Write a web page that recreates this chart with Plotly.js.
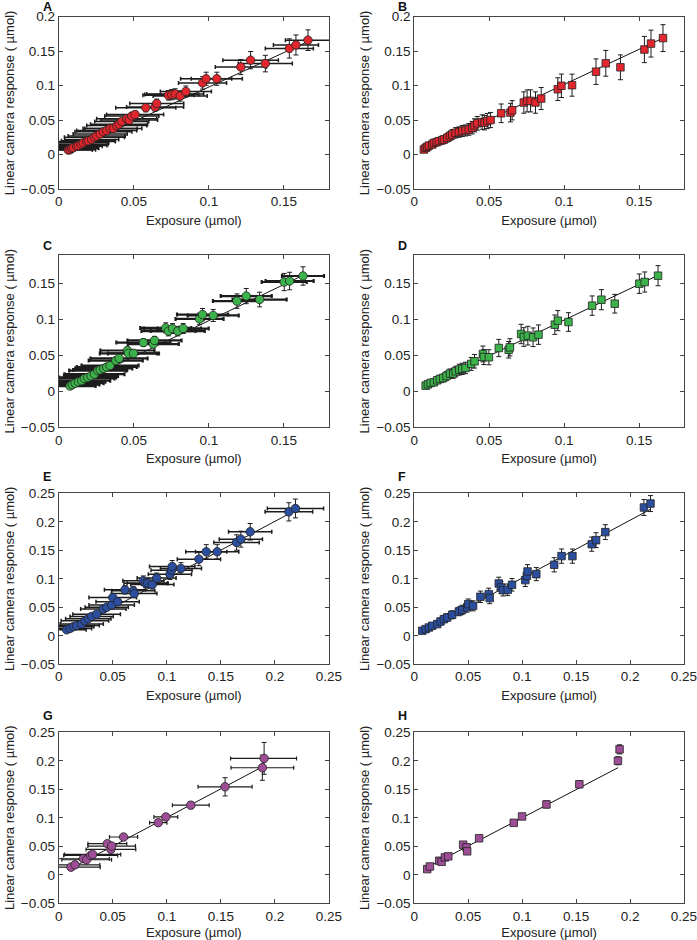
<!DOCTYPE html>
<html>
<head>
<meta charset="utf-8">
<script src="https://cdn.plot.ly/plotly-3.0.1.min.js"></script>
<style>
html,body{margin:0;padding:0;background:#fff;}
#chart{width:697px;height:940px;}
</style>
</head>
<body>
<div id="chart"></div>
<script>
// ---------- Data ----------
// Panels A/B : shared exposure values
var abX = [0.0064,0.0076,0.0087,0.0098,0.0120,0.0131,0.0149,0.0164,0.0187,0.0198,0.0220,0.0238,0.0253,0.0276,0.0298,0.0320,0.0342,0.0364,0.0387,0.0402,0.0420,0.0453,0.0469,0.0487,0.0509,0.0580,0.0642,0.0653,0.0731,0.0753,0.0776,0.0809,0.0847,0.0958,0.0982,0.1053,0.1213,0.1278,0.1376,0.1536,0.1580,0.1660];
var aY  = [0.0065,0.0070,0.0090,0.0100,0.0120,0.0130,0.0150,0.0170,0.0190,0.0200,0.0220,0.0250,0.0270,0.0300,0.0330,0.0350,0.0380,0.0380,0.0420,0.0440,0.0480,0.0520,0.0500,0.0560,0.0580,0.0680,0.0690,0.0740,0.0860,0.0870,0.0880,0.0850,0.0915,0.1040,0.1100,0.1100,0.1270,0.1370,0.1320,0.1540,0.1590,0.1660];
var aEx = [0.016,0.017,0.018,0.016,0.017,0.019,0.018,0.017,0.019,0.018,0.018,0.020,0.019,0.018,0.019,0.020,0.018,0.019,0.020,0.019,0.018,0.020,0.019,0.018,0.019,0.020,0.019,0.018,0.017,0.018,0.019,0.018,0.017,0.016,0.017,0.017,0.017,0.0185,0.018,0.016,0.015,0.015];
var aEy = [0.001,0.001,0.001,0.001,0.0015,0.0015,0.0015,0.002,0.002,0.002,0.002,0.0025,0.0025,0.003,0.003,0.003,0.0035,0.0035,0.004,0.004,0.0045,0.0045,0.0045,0.005,0.005,0.006,0.006,0.0065,0.007,0.0075,0.0075,0.0075,0.008,0.009,0.0095,0.0095,0.011,0.0125,0.012,0.014,0.0145,0.015];
var bY  = [0.0073,0.0097,0.0112,0.0131,0.0146,0.0170,0.0180,0.0195,0.0209,0.0219,0.0243,0.0268,0.0292,0.0316,0.0326,0.0341,0.0350,0.0365,0.0390,0.0424,0.0453,0.0472,0.0463,0.0487,0.0501,0.0599,0.0609,0.0643,0.0755,0.0779,0.0779,0.0755,0.0813,0.0949,0.0998,0.1007,0.1203,0.1324,0.1266,0.1524,0.1610,0.1690];
var bEy = [0.003,0.003,0.0035,0.004,0.004,0.0045,0.005,0.005,0.0055,0.0055,0.006,0.0065,0.007,0.0075,0.0075,0.008,0.008,0.0085,0.009,0.0095,0.010,0.0105,0.0105,0.011,0.011,0.0135,0.0135,0.014,0.0155,0.016,0.016,0.0155,0.016,0.0165,0.017,0.016,0.0185,0.0187,0.018,0.019,0.0195,0.0195];
var fitABx = [0.005,0.168];
var fitAy  = [0.003,0.166];
var fitBy  = [0.005,0.171];

// Panels C/D
var cdX = [0.0076,0.0091,0.0109,0.0131,0.0153,0.0171,0.0193,0.0215,0.0238,0.0260,0.0276,0.0300,0.0320,0.0342,0.0380,0.0402,0.0458,0.0464,0.0498,0.0564,0.0630,0.0638,0.0713,0.0731,0.0758,0.0793,0.0829,0.0938,0.0958,0.1029,0.1187,0.1249,0.1338,0.1502,0.1538,0.1627];
var cY  = [0.0075,0.0095,0.0115,0.0135,0.0150,0.0180,0.0195,0.0215,0.0240,0.0290,0.0300,0.0320,0.0340,0.0360,0.0430,0.0460,0.0570,0.0530,0.0530,0.0680,0.0660,0.0710,0.0885,0.0840,0.0875,0.0840,0.0876,0.1010,0.1070,0.1058,0.1258,0.1328,0.1280,0.1524,0.1538,0.1608];
var cEx = [0.017,0.018,0.019,0.018,0.019,0.020,0.019,0.018,0.020,0.019,0.018,0.019,0.020,0.019,0.018,0.019,0.018,0.019,0.017,0.018,0.017,0.018,0.017,0.018,0.019,0.018,0.017,0.016,0.017,0.017,0.016,0.017,0.018,0.015,0.016,0.014];
var cEy = [0.001,0.001,0.001,0.0012,0.0013,0.0015,0.0016,0.0018,0.002,0.0023,0.0024,0.0026,0.0028,0.003,0.0034,0.0036,0.0045,0.0042,0.0042,0.0054,0.0052,0.0056,0.007,0.0066,0.0069,0.0066,0.0069,0.008,0.0085,0.0084,0.010,0.0106,0.0102,0.012,0.0122,0.0128];
var dY  = [0.0080,0.0099,0.0118,0.0127,0.0155,0.0174,0.0187,0.0215,0.0248,0.0248,0.0280,0.0303,0.0315,0.0327,0.0383,0.0420,0.0522,0.0480,0.0476,0.0605,0.0580,0.0614,0.0800,0.0758,0.0777,0.0754,0.0791,0.0930,0.0986,0.0967,0.1195,0.1278,0.1222,0.1501,0.1524,0.1612];
var dEy = [0.003,0.0035,0.004,0.004,0.0045,0.005,0.0055,0.006,0.0065,0.0065,0.007,0.0075,0.0078,0.008,0.009,0.0095,0.011,0.0105,0.0105,0.012,0.0115,0.012,0.0135,0.013,0.013,0.013,0.0135,0.0135,0.014,0.013,0.0135,0.014,0.013,0.0135,0.014,0.014];
var fitCDx = [0.006,0.163];
var fitCy  = [0.004,0.162];
var fitDy  = [0.006,0.162];

// Panels E/F
var efX = [0.0074,0.0105,0.0136,0.0166,0.0213,0.0243,0.0274,0.0305,0.0351,0.0413,0.0444,0.0490,0.0500,0.0545,0.0613,0.0690,0.0699,0.0783,0.0804,0.0823,0.0866,0.0906,0.1029,0.1044,0.1050,0.1131,0.1297,0.1365,0.1466,0.1645,0.1685,0.1771,0.2129,0.2190];
var eY  = [0.0105,0.0130,0.0160,0.0180,0.0205,0.0263,0.0300,0.0340,0.0380,0.0468,0.0500,0.0540,0.0673,0.0596,0.0807,0.0790,0.0740,0.0965,0.0924,0.0924,0.0900,0.1012,0.1082,0.1150,0.1216,0.1181,0.1345,0.1474,0.1474,0.1637,0.1696,0.1825,0.2175,0.2234];
var eEx = [0.018,0.020,0.019,0.021,0.020,0.022,0.021,0.020,0.022,0.021,0.020,0.021,0.022,0.020,0.019,0.020,0.021,0.019,0.020,0.019,0.020,0.018,0.020,0.019,0.021,0.019,0.020,0.019,0.020,0.021,0.020,0.020,0.022,0.026];
var eEy = [0.001,0.0012,0.0015,0.0017,0.002,0.0025,0.0028,0.003,0.0035,0.004,0.0045,0.005,0.006,0.0055,0.0072,0.007,0.0066,0.0085,0.0082,0.0082,0.008,0.009,0.0095,0.010,0.0105,0.0102,0.0115,0.0125,0.0125,0.0135,0.014,0.0145,0.016,0.0165];
var fY  = [0.0088,0.0117,0.0146,0.0175,0.0205,0.0251,0.0292,0.0322,0.0368,0.0427,0.0456,0.0500,0.0556,0.0526,0.0684,0.0731,0.0661,0.0918,0.0848,0.0801,0.0807,0.0895,0.0977,0.1053,0.1129,0.1082,0.1246,0.1398,0.1398,0.1608,0.1678,0.1819,0.2251,0.2320];
var fEy = [0.003,0.0035,0.004,0.0045,0.005,0.0055,0.006,0.0065,0.007,0.0075,0.008,0.0085,0.009,0.0088,0.010,0.0105,0.0098,0.011,0.0105,0.0102,0.0102,0.011,0.0112,0.0115,0.012,0.0115,0.0125,0.0125,0.0125,0.0125,0.013,0.013,0.014,0.014];
var fitEFx = [0.007,0.219];
var fitEy  = [0.006,0.220];
var fitFy  = [0.007,0.222];

// Panels G/H
var gX  = [0.0114,0.0151,0.0228,0.0259,0.0296,0.0314,0.0450,0.0483,0.0490,0.0600,0.0921,0.0991,0.1222,0.1539,0.1884,0.1900];
var gY  = [0.0135,0.0176,0.0282,0.0264,0.0340,0.0358,0.0546,0.0446,0.0505,0.0663,0.0915,0.1015,0.1221,0.1543,0.1878,0.2042];
var gExPlus  = [0.027,0.023,0.024,0.023,0.025,0.026,0.018,0.023,0.022,0.013,0.008,0.011,0.017,0.025,0.029,0.030];
var gExMinus = [0.027,0.023,0.024,0.023,0.025,0.026,0.018,0.023,0.022,0.013,0.008,0.011,0.017,0.025,0.029,0.031];
var gEy = [0.003,0.003,0.004,0.004,0.004,0.004,0.005,0.005,0.005,0.006,0.005,0.006,0.006,0.016,0.022,0.028];
var hX  = [0.0120,0.0145,0.0231,0.0253,0.0284,0.0315,0.0453,0.0484,0.0490,0.0601,0.0922,0.0999,0.1225,0.1530,0.1888,0.1903];
var hY  = [0.0100,0.0147,0.0247,0.0229,0.0306,0.0324,0.0529,0.0482,0.0412,0.0641,0.0912,0.1024,0.1235,0.1588,0.2000,0.2200];
var hEy = [0.003,0.003,0.003,0.003,0.003,0.003,0.004,0.004,0.004,0.004,0.004,0.005,0.006,0.006,0.007,0.008];
var fitGHx = [0.011,0.189];
var fitGy  = [0.011,0.190];
var fitHy  = [0.012,0.188];

var panelLetters = ['A','B','C','D','E','F','G','H'];
var xTitle = 'Exposure (\u00b5mol)';
var yTitle = 'Linear camera response ( \u00b5mol)';

// ---------- Styling ----------
var RED='#e2262d', GREEN='#3bb24a', BLUE='#2c4e9e', PURPLE='#9d4e96';
var FONT='Liberation Sans, Arial, Helvetica, sans-serif';
var colL=[0.0842,0.4720], colR=[0.5944,0.9813];
var rows=[[0.7989,0.9822],[0.5454,0.7287],[0.2933,0.4752],[0.0390,0.2210]];
var letterGap=[2,1,8.5,8.5]; // px between panel top and letter box bottom, per row

var panels = [
  {x:abX,y:aY,ex:aEx,exm:aEx,ey:aEy,fx:fitABx,fy:fitAy,c:RED,sym:'circle',xr:[0,0.18],yr:[-0.05,0.2],th:1.5},
  {x:abX,y:bY,ex:null,ey:bEy,fx:fitABx,fy:fitBy,c:RED,sym:'square',xr:[0,0.18],yr:[-0.05,0.2]},
  {x:cdX,y:cY,ex:cEx,exm:cEx,ey:cEy,fx:fitCDx,fy:fitCy,c:GREEN,sym:'circle',xr:[0,0.18],yr:[-0.05,0.19],th:2.2},
  {x:cdX,y:dY,ex:null,ey:dEy,fx:fitCDx,fy:fitDy,c:GREEN,sym:'square',xr:[0,0.18],yr:[-0.05,0.19]},
  {x:efX,y:eY,ex:eEx,exm:eEx,ey:eEy,fx:fitEFx,fy:fitEy,c:BLUE,sym:'circle',xr:[0,0.25],yr:[-0.05,0.25],th:1.5},
  {x:efX,y:fY,ex:null,ey:fEy,fx:fitEFx,fy:fitFy,c:BLUE,sym:'square',xr:[0,0.25],yr:[-0.05,0.25]},
  {x:gX,y:gY,ex:gExPlus,exm:gExMinus,ey:gEy,fx:fitGHx,fy:fitGy,c:PURPLE,sym:'circle',xr:[0,0.25],yr:[-0.05,0.25],th:1.2},
  {x:hX,y:hY,ex:null,ey:hEy,fx:fitGHx,fy:fitHy,c:PURPLE,sym:'square',xr:[0,0.25],yr:[-0.05,0.25]}
];

var traces=[], layout={
  width:697,height:940,margin:{l:0,r:0,t:0,b:0},
  paper_bgcolor:'#fff',plot_bgcolor:'#fff',showlegend:false,
  font:{family:FONT,size:13,color:'#222'},annotations:[]
};

panels.forEach(function(p,i){
  var n=i+1, xa='x'+(n===1?'':n), ya='y'+(n===1?'':n);
  var xk='xaxis'+(n===1?'':n), yk='yaxis'+(n===1?'':n);
  var col=(i%2===0)?colL:colR, r=Math.floor(i/2), row=rows[r];
  traces.push({x:p.fx,y:p.fy,xaxis:xa,yaxis:ya,mode:'lines',type:'scatter',
    line:{color:'#111',width:1},hoverinfo:'skip'});
  var t={x:p.x,y:p.y,xaxis:xa,yaxis:ya,mode:'markers',type:'scatter',cliponaxis:true,
    marker:{symbol:p.sym,size:p.sym==='circle'?8.5:7.5,color:p.c,line:{color:'#222',width:0.8}},
    error_y:{type:'data',array:p.ey,visible:true,color:'#1c1c1c',thickness:1,width:2.5}};
  if(p.ex){t.error_x={type:'data',symmetric:false,array:p.ex,arrayminus:p.exm,visible:true,color:'#1c1c1c',thickness:p.th,width:2};}
  traces.push(t);
  var yt=[]; for(var v=-0.05; v<=p.yr[1]+1e-9; v+=0.05){yt.push(Math.round(v*100)/100);}
  var xt=[]; for(var w=0; w<=p.xr[1]+1e-9; w+=0.05){xt.push(Math.round(w*100)/100);}
  layout[xk]={domain:col,anchor:ya,range:p.xr,tickvals:xt,ticks:'inside',ticklen:4,tickcolor:'#444',
    showline:true,mirror:'ticks',linecolor:'#444',linewidth:1,showgrid:false,zeroline:false,
    ticklabeloverflow:'allow',
    tickfont:{size:13.5,color:'#222'},title:{text:xTitle,font:{size:13,color:'#222'},standoff:7}};
  layout[yk]={domain:row,anchor:xa,range:p.yr,tickvals:yt,ticks:'inside',ticklen:4,tickcolor:'#444',
    showline:true,mirror:'ticks',linecolor:'#444',linewidth:1,showgrid:false,zeroline:false,
    ticklabeloverflow:'allow',
    tickfont:{size:13.5,color:'#222'},title:{text:yTitle,font:{size:13,color:'#222'},standoff:3}};
  layout.annotations.push({text:'<b>'+panelLetters[i]+'</b>',xref:'paper',yref:'paper',
    x:(col[0]*697-17)/697,y:row[1]+(letterGap[r]/940),xanchor:'left',yanchor:'bottom',showarrow:false,
    borderpad:0,font:{size:12.5,color:'#111',family:FONT}});
});

Plotly.newPlot('chart',traces,layout,{displayModeBar:false,staticPlot:true});
</script>
</body>
</html>
